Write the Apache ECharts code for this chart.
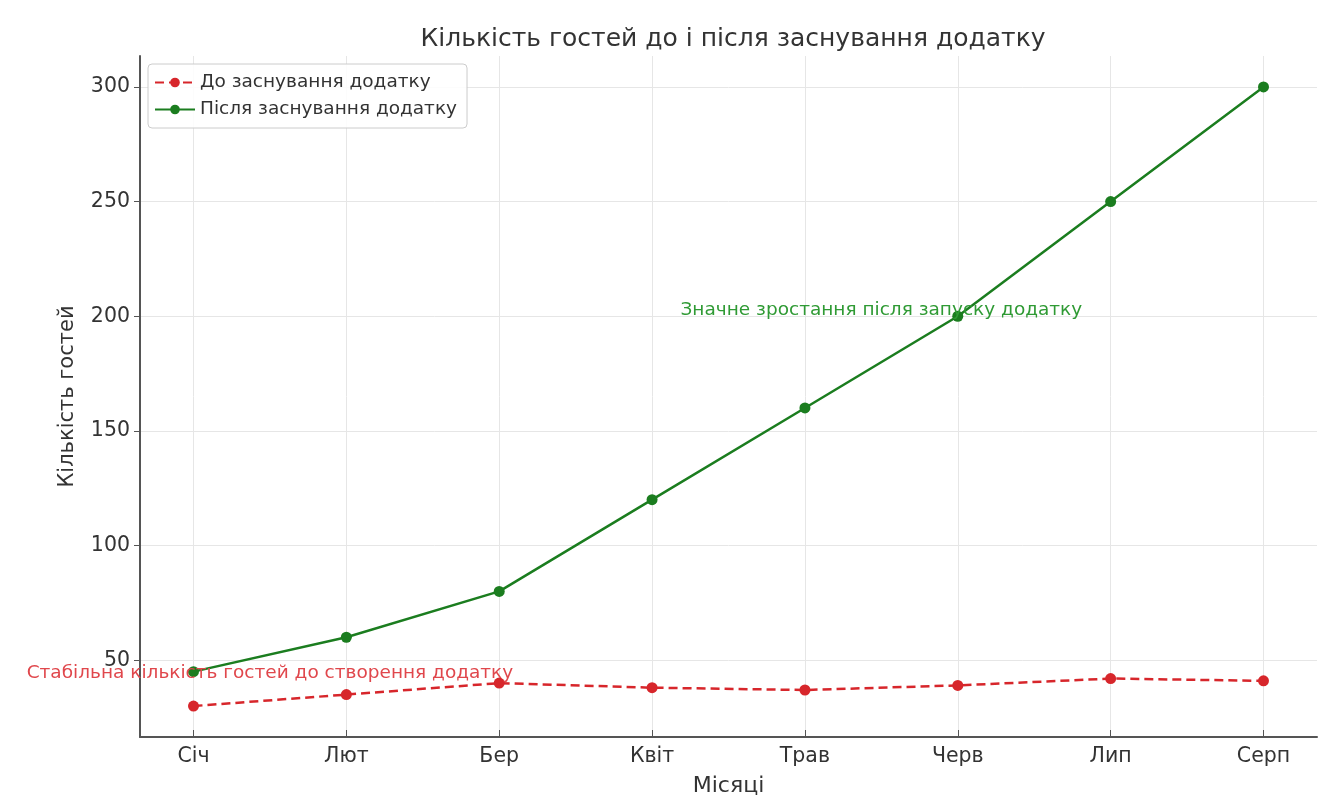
<!DOCTYPE html>
<html>
<head>
<meta charset="utf-8">
<script src="https://cdn.jsdelivr.net/npm/echarts@6/dist/echarts.min.js"></script>
<style>
  html, body { margin: 0; padding: 0; background: #fff; }
  #chart { width: 1332px; height: 798px; }
</style>
</head>
<body>
<div id="chart"></div>
<script>
// months on the x axis
const months = ['Січ', 'Лют', 'Бер', 'Квіт', 'Трав', 'Черв', 'Лип', 'Серп']
// guests before the app launch
const beforeApp = [30, 35, 40, 38, 37, 39, 42, 41]
// guests after the app launch
const afterApp = [45, 60, 80, 120, 160, 200, 250, 300]
const yTicks = [50, 100, 150, 200, 250, 300]
const xTicks = months.map((m, i) => i)

const font = 'DejaVu Sans'
const redColor = '#d7262b'
const greenColor = '#1b7d1f'

const toPairs = (vals) => vals.map((v, i) => [i, v])

const chart = echarts.init(document.getElementById('chart'))
const options = {
    animation: false,
    textStyle: { fontFamily: font },
    title: {
        text: 'Кількість гостей до і після заснування додатку',
        left: 728,
        textAlign: 'center',
        top: 22,
        textStyle: { fontFamily: font, fontSize: 25, fontWeight: 'normal', color: '#333' }
    },
    legend: {
        orient: 'vertical',
        left: 148,
        top: 64,
        padding: [9, 10, 9, 6],
        itemGap: 8,
        itemWidth: 40,
        itemHeight: 12,
        borderColor: '#ccc',
        borderWidth: 1,
        borderRadius: 4,
        backgroundColor: 'rgba(255,255,255,0.85)',
        textStyle: { fontFamily: font, fontSize: 18.5, color: '#333' },
        data: ['До заснування додатку', 'Після заснування додатку']
    },
    grid: { left: 140, right: 15, top: 56, bottom: 61, outerBoundsMode: 'none' },
    xAxis: {
        type: 'value',
        min: -0.35,
        max: 7.35,
        name: 'Місяці',
        nameLocation: 'middle',
        nameGap: 38,
        nameTextStyle: { fontFamily: font, fontSize: 22, color: '#333' },
        axisLine: { show: true, onZero: false, lineStyle: { color: '#555', width: 2 } },
        axisTick: { show: true, inside: true, customValues: xTicks, length: 7, lineStyle: { color: '#555' } },
        axisLabel: {
            customValues: xTicks,
            formatter: (v) => months[Math.round(v)],
            fontFamily: font, fontSize: 20.5, color: '#333', margin: 9
        },
        splitLine: { show: true, lineStyle: { color: '#e6e6e6', width: 1 } }
    },
    yAxis: {
        type: 'value',
        min: 16.5,
        max: 313.5,
        name: 'Кількість гостей',
        nameLocation: 'middle',
        nameGap: 62,
        nameRotate: 90,
        nameTextStyle: { fontFamily: font, fontSize: 21, color: '#333' },
        axisLine: { show: true, onZero: false, lineStyle: { color: '#555', width: 2 } },
        axisTick: { show: true, customValues: yTicks, length: 6, lineStyle: { color: '#555' } },
        axisLabel: { customValues: yTicks, fontFamily: font, fontSize: 20.5, color: '#333', margin: 10 },
        splitLine: { show: true, lineStyle: { color: '#e6e6e6', width: 1 } }
    },
    series: [
        {
            name: 'До заснування додатку',
            type: 'line',
            data: toPairs(beforeApp),
            symbol: 'circle',
            symbolSize: 11,
            z: 3,
            itemStyle: { color: redColor },
            lineStyle: { color: redColor, width: 2.5, type: [9, 5] },
            markPoint: {
                symbol: 'circle',
                symbolSize: 0,
                silent: true,
                label: {
                    show: true,
                    position: 'inside',
                    offset: [0, 2],
                    formatter: 'Стабільна кількість гостей до створення додатку',
                    fontFamily: font, fontSize: 18.5, color: '#e0474c'
                },
                data: [{ coord: [0.5, 45] }]
            }
        },
        {
            name: 'Після заснування додатку',
            type: 'line',
            data: toPairs(afterApp),
            symbol: 'circle',
            symbolSize: 11,
            z: 2,
            itemStyle: { color: greenColor },
            lineStyle: { color: greenColor, width: 2.5 },
            markPoint: {
                symbol: 'circle',
                symbolSize: 0,
                silent: true,
                label: {
                    show: true,
                    position: 'inside',
                    offset: [0, -6],
                    formatter: 'Значне зростання після запуску додатку',
                    fontFamily: font, fontSize: 18.5, color: '#2f9a34'
                },
                data: [{ coord: [4.5, 200] }]
            }
        }
    ]
}
chart.setOption(options)
</script>
</body>
</html>
